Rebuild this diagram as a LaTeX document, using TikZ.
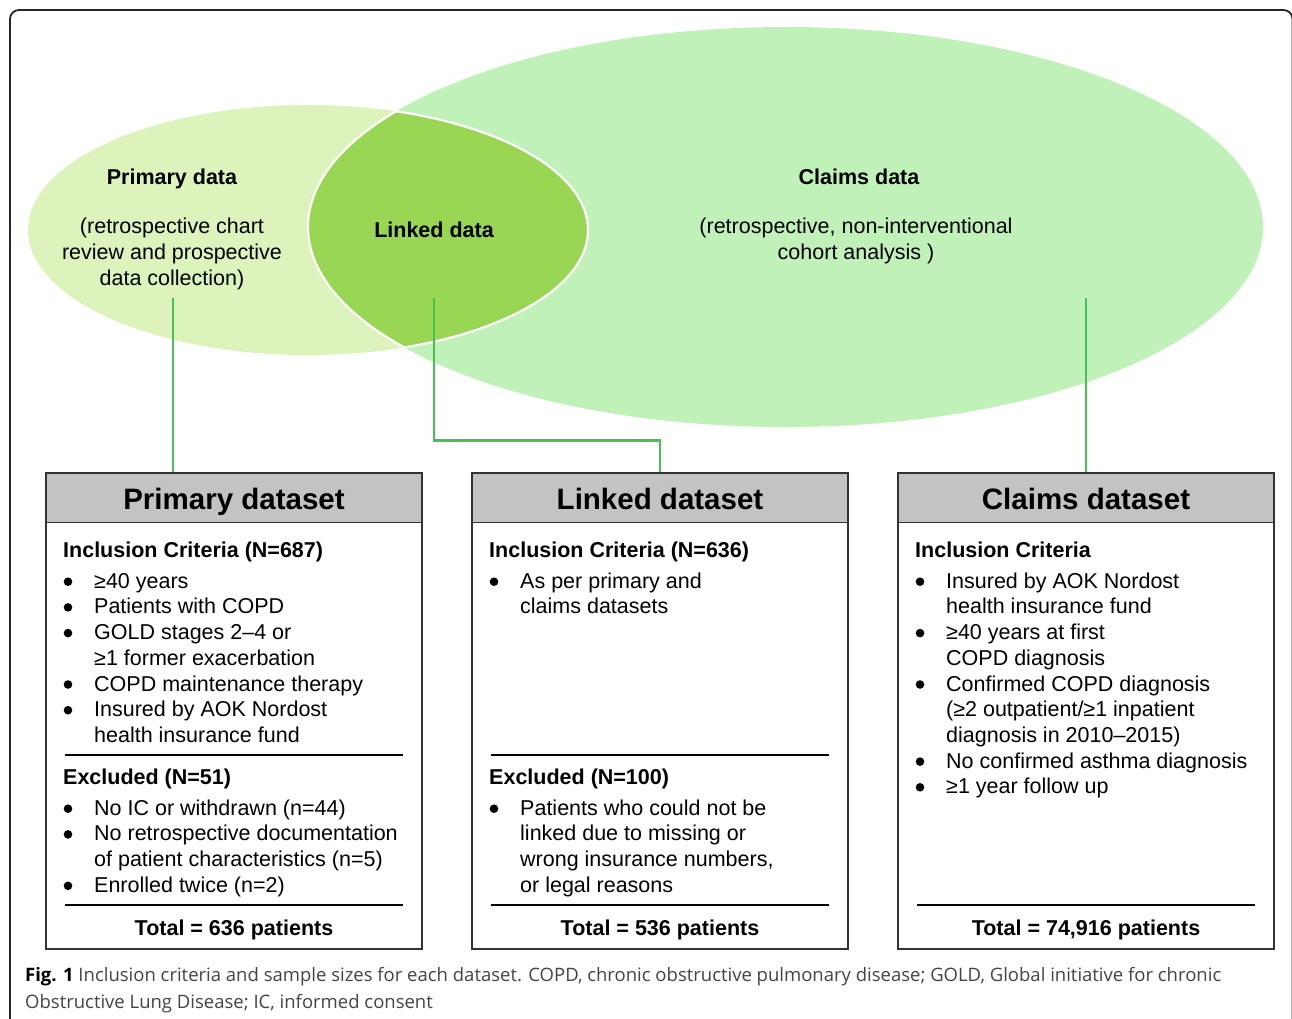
\documentclass[tikz,border=0pt]{standalone}
\usepackage{fontspec}
\setmainfont{Liberation Sans}
\newfontfamily\capfont{Open Sans}
\definecolor{primcol}{HTML}{DCF4BC}
\definecolor{claimcol}{HTML}{C0F1B8}
\definecolor{lenscol}{HTML}{99D653}
\definecolor{hdrcol}{HTML}{C3C3C3}
\definecolor{conncol}{HTML}{47C14F}
\definecolor{edgecol}{HTML}{333333}
\definecolor{capgray}{HTML}{444444}
\newcommand\fs{\rule{0pt}{18pt}}
\newcommand\ind{\hspace*{31pt}}
\tikzset{
  x=1pt, y=-1pt,
  bodyfont/.style={font=\fontsize{21.5}{25.7}\selectfont},
  txt/.style={bodyfont, anchor=north west, inner sep=0pt, align=left},
  elab/.style={bodyfont, anchor=base, inner sep=0pt},
  etxt/.style={bodyfont, anchor=north, inner sep=0pt, align=center, font=\fontsize{21.5}{26}\selectfont},
  hdr/.style={draw=edgecol, line width=1.5pt, fill=hdrcol, minimum width=376pt, minimum height=49.5pt,
              inner sep=0pt, text height=23.1pt, text depth=0pt, font=\bfseries\fontsize{29.5}{30}\selectfont},
  bodybox/.style={draw=edgecol, line width=1.5pt, fill=white, minimum width=376pt, minimum height=427pt, inner sep=0pt},
  tot/.style={anchor=base, inner sep=0pt, font=\bfseries\fontsize{21.5}{25.7}\selectfont},
  conn/.style={draw=conncol, line width=2.8pt},
  sep/.style={draw=black, line width=1.2pt},
  bul/.style={fill=black},
}
\begin{document}
\begin{tikzpicture}
\useasboundingbox (0,0) rectangle (1292,1019);
\clip (0,0) rectangle (1292,1019);
\fill[white] (0,0) rectangle (1292,1019);
% outer frame
\draw[rounded corners=9pt, line width=1.8pt, draw=black!85] (10,10) rectangle (1292.5,1030);
% ellipses
\fill[primcol] (308,230) ellipse [x radius=280pt, y radius=125pt];
\fill[claimcol] (785.5,227) ellipse [x radius=477.5pt, y radius=200pt];
\begin{scope}
  \clip (308,230) ellipse [x radius=280pt, y radius=125pt];
  \fill[lenscol] (785.5,227) ellipse [x radius=477.5pt, y radius=200pt];
  \draw[white, line width=2.2pt] (785.5,227) ellipse [x radius=477.5pt, y radius=200pt];
\end{scope}
\begin{scope}
  \clip (785.5,227) ellipse [x radius=477.5pt, y radius=200pt];
  \draw[white, line width=2.2pt] (308,230) ellipse [x radius=280pt, y radius=125pt];
\end{scope}
% ellipse labels
\node[elab, font=\bfseries\fontsize{21.5}{25.7}\selectfont] (prim-t) at (172,185) {Primary data};
\node[etxt] (prim-d) at (172,215) {\fs(retrospective chart\\review and prospective\\data collection)};
\node[elab, font=\bfseries\fontsize{21.5}{25.7}\selectfont] (link-t) at (434,237) {Linked data};
\node[elab, font=\bfseries\fontsize{21.5}{25.7}\selectfont] (claim-t) at (859,185) {Claims data};
\node[etxt] (claim-d) at (856,215) {\fs(retrospective, non-interventional\\cohort analysis )};
% boxes
\node[bodybox] (pb) at (234,735.5) {};
\node[hdr] (ph) at (234,497.75) {Primary dataset};
\node[bodybox] (lb) at (660,735.5) {};
\node[hdr] (lh) at (660,497.75) {Linked dataset};
\node[bodybox] (cb) at (1086,735.5) {};
\node[hdr] (ch) at (1086,497.75) {Claims dataset};
% connectors
\coordinate (p-src) at (173,298);
\coordinate (l-src) at (434,298);
\coordinate (c-src) at (1086,298);
\draw[conn] (p-src) -- (p-src |- ph.north);
\draw[conn] (l-src) |- ([yshift=31.5pt]lh.north) -- (lh.north);
\draw[conn] (c-src) -- (ch.north);
% bullets
\foreach \y in {581.7,607.4,633.1,684.5,710.2,808.7,834.4,885.8}
  \fill[bul] (68,\y) circle [radius=4.3pt];
\foreach \y in {581.7,808.7}
  \fill[bul] (494,\y) circle [radius=4.3pt];
\foreach \y in {581.7,633.1,684.5,761.6,787.3}
  \fill[bul] (920,\y) circle [radius=4.3pt];
% primary contents
\node[txt] (p-inc) at (63,539) {\fs\textbf{Inclusion Criteria (N=687)}\\[5.3pt]
\ind≥40 years\\
\ind Patients with COPD\\
\ind GOLD stages 2–4 or\\
\ind≥1 former exacerbation\\
\ind COPD maintenance therapy\\
\ind Insured by AOK Nordost\\
\ind health insurance fund};
\draw[sep] (65,755) -- (403,755);
\node[txt] (p-exc) at (63,766) {\fs\textbf{Excluded (N=51)}\\[5.3pt]
\ind No IC or withdrawn (n=44)\\
\ind No retrospective documentation\\
\ind of patient characteristics (n=5)\\
\ind Enrolled twice (n=2)};
\draw[sep] (65,905) -- (403,905);
\node[tot] (p-tot) at (234,935.5) {Total = 636 patients};
% linked contents
\node[txt] (l-inc) at (489,539) {\fs\textbf{Inclusion Criteria (N=636)}\\[5.3pt]
\ind As per primary and\\
\ind claims datasets};
\draw[sep] (491,755) -- (829,755);
\node[txt] (l-exc) at (489,766) {\fs\textbf{Excluded (N=100)}\\[5.3pt]
\ind Patients who could not be\\
\ind linked due to missing or\\
\ind wrong insurance numbers,\\
\ind or legal reasons};
\draw[sep] (491,905) -- (829,905);
\node[tot] (l-tot) at (660,935.5) {Total = 536 patients};
% claims contents
\node[txt] (c-inc) at (915,539) {\fs\textbf{Inclusion Criteria}\\[5.3pt]
\ind Insured by AOK Nordost\\
\ind health insurance fund\\
\ind≥40 years at first\\
\ind COPD diagnosis\\
\ind Confirmed COPD diagnosis\\
\ind(≥2 outpatient/≥1 inpatient\\
\ind diagnosis in 2010–2015)\\
\ind No confirmed asthma diagnosis\\
\ind≥1 year follow up};
\draw[sep] (917,905) -- (1255,905);
\node[tot] (c-tot) at (1086,935.5) {Total = 74,916 patients};
% caption
\node[anchor=north west, inner sep=0pt, align=left, text=capgray,
      font=\capfont\fontsize{18.5}{26.5}\selectfont] (cap) at (25,963.5)
  {\fs{\color{black}\bfseries Fig. 1} Inclusion criteria and sample sizes for each dataset. COPD, chronic obstructive pulmonary disease; GOLD, Global initiative for chronic\\
   Obstructive Lung Disease; IC, informed consent};
\end{tikzpicture}
\end{document}
